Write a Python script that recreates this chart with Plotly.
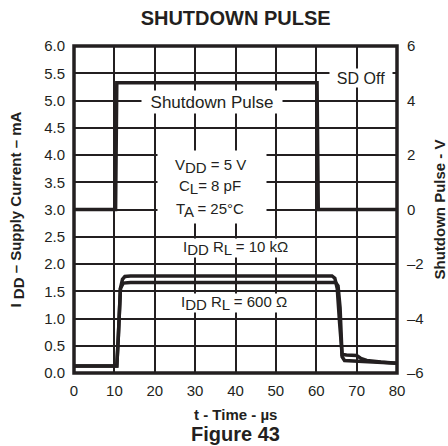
import plotly.graph_objects as go

# ---- data ----
t_sd = [0, 10.3, 10.6, 60.2, 60.5, 80]
v_sd = [0.0, 0.0, 4.65, 4.65, 0.0, 0.0]            # Shutdown pulse, V (right axis)

t_10k = [0, 10.6, 11.0, 11.5, 12.0, 12.6, 14, 63.9, 64.6, 65.2, 65.8, 66.4, 67.5, 70.0, 71.0, 72.5, 76, 80]
i_10k = [0.13, 0.13, 0.7, 1.55, 1.72, 1.77, 1.78, 1.78, 1.74, 1.55, 0.9, 0.34, 0.33, 0.32, 0.27, 0.23, 0.20, 0.18]

t_600 = [0, 10.6, 11.0, 11.5, 12.2, 14, 64.8, 65.4, 65.9, 66.4, 67.0, 70.0, 72.5, 76, 80]
i_600 = [0.13, 0.13, 0.7, 1.55, 1.65, 1.66, 1.66, 1.6, 1.2, 0.3, 0.23, 0.22, 0.21, 0.19, 0.18]

x_ticks = [0, 10, 20, 30, 40, 50, 60, 70, 80]
y_ticks = [0.0, 0.5, 1.0, 1.5, 2.0, 2.5, 3.0, 3.5, 4.0, 4.5, 5.0, 5.5, 6.0]
y2_ticks = [-6, -4, -2, 0, 2, 4, 6]
y2_text = ["\u20136", "\u20134", "\u20132", "0", "2", "4", "6"]

FONT = "Liberation Sans, Arial, sans-serif"
INK = "#231f20"


def sub(s, size):
    # full-size, lowered subscript as in the reference
    return f'<sub><span style="font-size:{size}px">{s}</span></sub>'


fig = go.Figure()
fig.add_trace(go.Scatter(x=t_10k, y=i_10k, mode="lines", line=dict(color=INK, width=3.5),
                         showlegend=False, hoverinfo="skip"))
fig.add_trace(go.Scatter(x=t_600, y=i_600, mode="lines", line=dict(color=INK, width=3.5),
                         showlegend=False, hoverinfo="skip"))
fig.add_trace(go.Scatter(x=t_sd, y=v_sd, mode="lines", line=dict(color=INK, width=3.5),
                         yaxis="y2", showlegend=False, hoverinfo="skip"))

LF = dict(size=15, color=INK, family=FONT)
ann = []
# in-plot labels with white backgrounds
ann.append(dict(x=34.3, y=4.97, text="Shutdown Pulse", showarrow=False, bgcolor="white",
                width=138, height=20, font=dict(size=17, color=INK, family=FONT)))
ann.append(dict(x=71.0, y=5.41, text="SD Off", showarrow=False, bgcolor="white",
                width=60, height=16, font=dict(size=16, color=INK, family=FONT)))
ann.append(dict(x=34.2, y=3.42, text=" ", showarrow=False, bgcolor="white",
                width=106, height=70, font=LF))
ann.append(dict(x=33.8, y=3.80, text="V" + sub("DD", 15) + " = 5 V", showarrow=False, font=LF))
ann.append(dict(x=33.8, y=3.41, text="C" + sub("L", 15) + "= 8 pF", showarrow=False, font=LF))
ann.append(dict(x=33.8, y=3.00, text="T" + sub("A", 15) + " = 25°C", showarrow=False, font=LF))
ann.append(dict(x=40.0, y=2.29, text="I" + sub("DD", 15) + " R" + sub("L", 15) + " = 10 k\u03a9",
                showarrow=False, bgcolor="white", height=16, font=LF))
ann.append(dict(x=39.6, y=1.28, text="I" + sub("DD", 15) + " R" + sub("L", 15) + " = 600 \u03a9",
                showarrow=False, bgcolor="white", height=16, font=LF))
# axis titles
ann.append(dict(xref="paper", yref="paper", x=0, y=0.5, xshift=-58, xanchor="center", yanchor="middle",
                textangle=-90, showarrow=False,
                text="<b>I " + sub("DD", 15) + " \u2013 Supply Current \u2013 mA</b>",
                font=dict(size=15, color=INK, family=FONT)))
ann.append(dict(xref="paper", yref="paper", x=1, y=0.5, xshift=42, xanchor="center", yanchor="middle",
                textangle=-90, showarrow=False, text="<b>Shutdown Pulse - V</b>",
                font=dict(size=15, color=INK, family=FONT)))
ann.append(dict(xref="paper", yref="paper", x=0.5, y=0, yshift=-41, xanchor="center", yanchor="middle",
                showarrow=False, text="<b>t - Time - \u00b5s</b>",
                font=dict(size=15, color=INK, family=FONT)))
ann.append(dict(xref="paper", yref="paper", x=0.5, y=0, yshift=-61, xanchor="center", yanchor="middle",
                showarrow=False, text="<b>Figure 43</b>",
                font=dict(size=20, color=INK, family=FONT)))

fig.update_layout(
    width=448, height=446,
    margin=dict(l=74, r=51, t=46, b=73),
    paper_bgcolor="white", plot_bgcolor="white",
    font=dict(family=FONT, color=INK, size=15),
    title=dict(text="<b>SHUTDOWN PULSE</b>", x=0.526, xanchor="center", y=1 - 18 / 446,
               yref="container", yanchor="middle", font=dict(size=20, color=INK, family=FONT)),
    xaxis=dict(range=[0, 80], tickvals=x_ticks, showgrid=True, gridcolor=INK, gridwidth=2,
               zeroline=False, showline=False, ticks="", tickfont=dict(size=15),
               ticklabelstandoff=7),
    yaxis=dict(range=[0, 6], tickvals=y_ticks, tickformat=".1f", showgrid=True, gridcolor=INK,
               gridwidth=2, zeroline=False, showline=False, ticks="", tickfont=dict(size=15),
               ticklabelstandoff=8),
    yaxis2=dict(range=[-6, 6], tickvals=y2_ticks, ticktext=y2_text, overlaying="y", side="right",
                showgrid=False, zeroline=False, showline=False, ticks="", tickfont=dict(size=15),
                ticklabelstandoff=9),
    annotations=ann,
    shapes=[dict(type="rect", xref="paper", yref="paper", x0=0, y0=0, x1=1, y1=1,
                 line=dict(color=INK, width=3.5), layer="above")],
)

fig.write_html("out.html", config={"displayModeBar": False},
               post_script="document.body.style.margin='0';document.body.style.overflow='hidden';")
